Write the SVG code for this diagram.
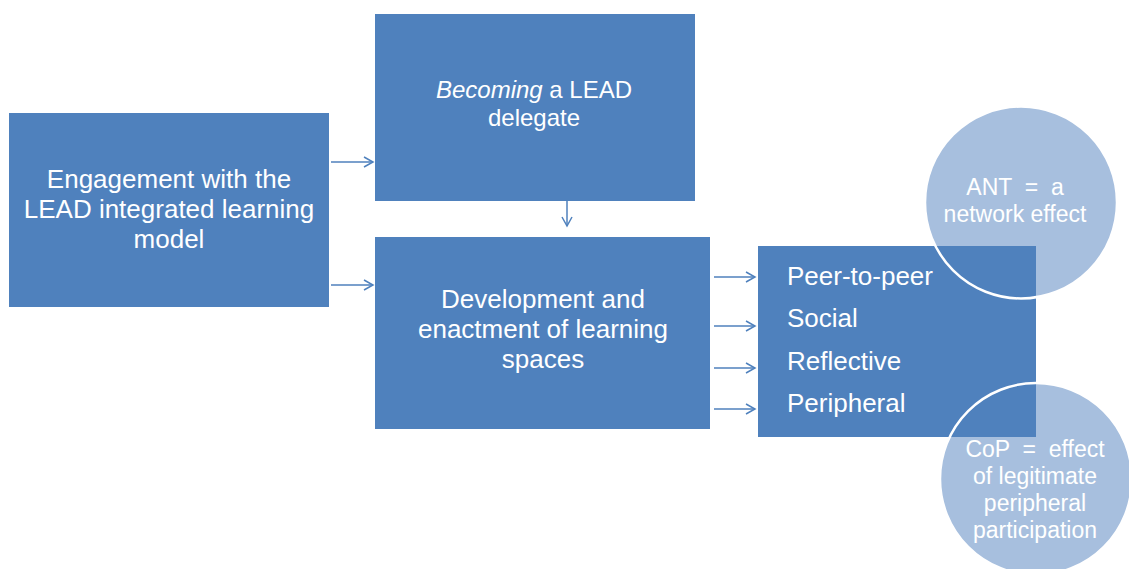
<svg xmlns="http://www.w3.org/2000/svg" width="1129" height="569" viewBox="0 0 1129 569">
<style>
.box{fill:#4f81bd;}
.circ{fill:#a7bfde;}
.ring{fill:none;stroke:#ffffff;stroke-width:2.5;}
.t{font-family:"Liberation Sans",Arial,sans-serif;font-size:26px;fill:#ffffff;}
.m{font-size:24px;}
.c{text-anchor:middle;}
.s{font-size:23px;}
.conn{stroke:#4f81bd;stroke-width:1.5;fill:none;marker-end:url(#arr);}
</style>
<defs>
<marker id="arr" markerUnits="userSpaceOnUse" markerWidth="12" markerHeight="12" refX="10" refY="6" orient="auto" viewBox="0 0 12 12">
<path d="M1,1 L10,6 L1,11" fill="none" stroke="#4f81bd" stroke-width="1.5"/>
</marker>
</defs>
<rect width="1129" height="569" fill="#ffffff"/>
<g id="circle-ant-fill"><circle class="circ" cx="1021" cy="202.5" r="96"/></g>
<g id="circle-cop-fill"><circle class="circ" cx="1036" cy="479" r="96"/></g>
<g id="node-engagement">
<rect class="box" x="9" y="113" width="320" height="194"/>
<text class="t c" x="169" y="188">Engagement with the</text>
<text class="t c" x="169" y="218">LEAD integrated learning</text>
<text class="t c" x="169" y="248">model</text>
</g>
<g id="node-becoming">
<rect class="box" x="375" y="14" width="320" height="187"/>
<text class="t c m" x="534" y="98"><tspan font-style="italic">Becoming</tspan> a LEAD</text>
<text class="t c m" x="534" y="126">delegate</text>
</g>
<g id="node-development">
<rect class="box" x="375" y="237" width="335" height="192"/>
<text class="t c" x="543" y="308">Development and</text>
<text class="t c" x="543" y="338">enactment of learning</text>
<text class="t c" x="543" y="368">spaces</text>
</g>
<g id="node-spaces">
<rect class="box" x="758" y="246" width="278" height="191"/>
<text class="t" x="787" y="285">Peer-to-peer</text>
<text class="t" x="787" y="327">Social</text>
<text class="t" x="787" y="370">Reflective</text>
<text class="t" x="787" y="412">Peripheral</text>
</g>
<g id="node-ant">
<circle class="ring" cx="1021" cy="202.5" r="96"/>
<text class="t c s" x="1015" y="195" xml:space="preserve">ANT  =  a</text>
<text class="t c s" x="1015" y="222">network effect</text>
</g>
<g id="node-cop">
<circle class="ring" cx="1036" cy="479" r="96"/>
<text class="t c s" x="1035" y="457" xml:space="preserve">CoP  =  effect</text>
<text class="t c s" x="1035" y="484">of legitimate</text>
<text class="t c s" x="1035" y="511">peripheral</text>
<text class="t c s" x="1035" y="538">participation</text>
</g>
<g id="connectors">
<line class="conn" x1="331" y1="162" x2="373" y2="162"/>
<line class="conn" x1="331" y1="285" x2="373" y2="285"/>
<line class="conn" x1="567" y1="201" x2="567" y2="226"/>
<line class="conn" x1="714" y1="277" x2="755" y2="277"/>
<line class="conn" x1="714" y1="326" x2="755" y2="326"/>
<line class="conn" x1="714" y1="368" x2="755" y2="368"/>
<line class="conn" x1="714" y1="409" x2="755" y2="409"/>
</g>
</svg>
